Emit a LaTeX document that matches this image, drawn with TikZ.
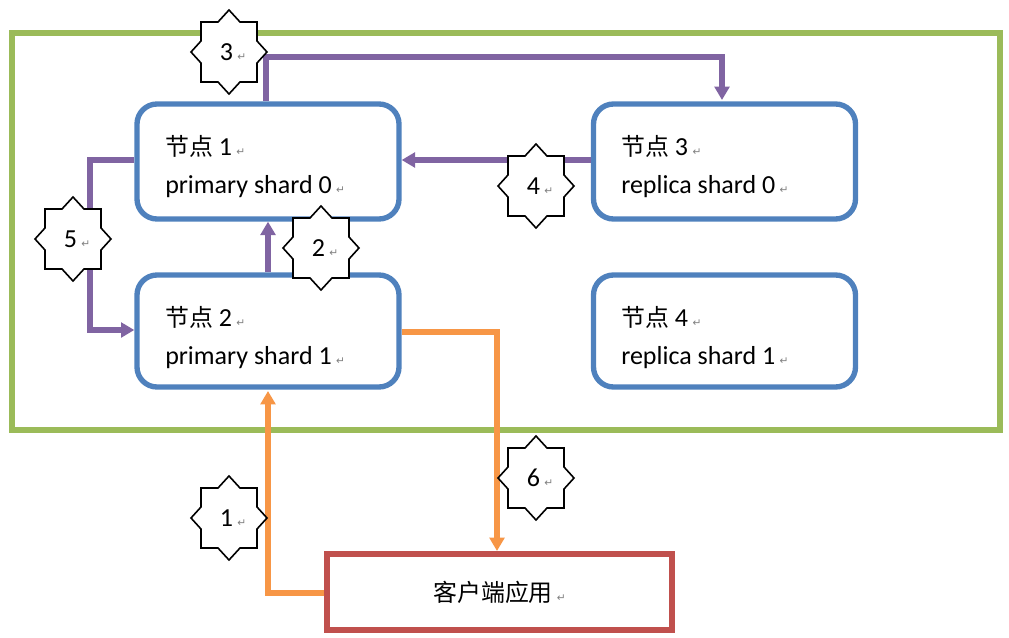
\documentclass[tikz,border=0pt]{standalone}
\usepackage{fontspec}
\setmainfont{Carlito}
\newfontfamily\cjk{Noto Sans CJK SC}[Scale=0.92]
\newfontfamily\dv{DejaVu Sans}
\usetikzlibrary{arrows.meta}
\definecolor{gr}{HTML}{9BBB59}
\definecolor{bl}{HTML}{4F81BD}
\definecolor{pu}{HTML}{8064A2}
\definecolor{og}{HTML}{F79646}
\definecolor{rd}{HTML}{C0504D}
\newcommand{\rt}{\,\textcolor{gray}{\dv\fontsize{8}{8}\selectfont ↵}}
\begin{document}
\begin{tikzpicture}[x=0.75pt,y=-0.75pt,
  box/.style={draw=bl,line width=4pt,rounded corners=15pt,fill=white},
  lbl/.style={anchor=west,font=\fontsize{19.5}{22}\selectfont,inner sep=0},
  pa/.style={draw=pu,line width=3.8pt,-{Triangle[length=10pt,width=11pt]}},
  oa/.style={draw=og,line width=3.8pt,-{Triangle[length=10pt,width=11pt]}}]
\useasboundingbox (0,0) rectangle (1009,638);
\newcommand{\mystar}[3]{%
  \draw[black,line width=1.2pt,fill=white] (#1,#2)
   +(0,-42) -- +(11,-30) -- +(28,-30) -- +(28,-11) -- +(38,0) -- +(28,11) -- +(28,30) -- +(11,30) -- +(0,42)
   -- +(-11,30) -- +(-28,30) -- +(-28,11) -- +(-38,0) -- +(-28,-11) -- +(-28,-30) -- +(-11,-30) -- cycle;
  \node[font=\fontsize{19.5}{22}\selectfont] (s#3) at (#1+4,#2) {#3\rt};}
\draw[gr,line width=4pt] (12,33) rectangle (1000,430);
\node[box,minimum width=262*0.75pt,minimum height=115*0.75pt] (n1) at (268,161.5) {};
\node[box,minimum width=262*0.75pt,minimum height=115*0.75pt] (n3) at (724.5,161.5) {};
\node[box,minimum width=262*0.75pt,minimum height=112*0.75pt] (n2) at (268,331) {};
\node[box,minimum width=262*0.75pt,minimum height=112*0.75pt] (n4) at (724.5,331) {};
\node[draw=rd,line width=4pt,minimum width=345*0.75pt,minimum height=76*0.75pt,font=\cjk\fontsize{19.5}{22}\selectfont] (cl) at (499.5,592) {客户端应用\rt};
\foreach \n/\x/\y/\a/\b in {n1/165/104/1/primary shard 0,n3/621/104/3/replica shard 0,n2/165/275/2/primary shard 1,n4/621/275/4/replica shard 1}{
  \node[lbl] at (\x,\y+42) {{\cjk 节点} \a\rt};
  \node[lbl] at (\x,\y+83) {\b\rt};}
\coordinate (a3) at (266,57); \coordinate (b3) at (722,57);
\draw[pa] (266,101) -- (a3) -- (b3) -- (722,100);
\draw[pa] (n3.west|-0,160) -- (n1.east|-0,160);
\draw[pa] (n2.north) -- (n1.south);
\draw[pa] (n1.west|-0,160) -- (90,160) -- (90,330) -- (n2.west|-0,330);
\draw[oa] (n2.east|-0,332) -- (497,332) -- (497,551);
\draw[oa] (cl.west|-0,593) -- (268,593) -- (268,391);
\mystar{229}{52}{3}
\mystar{536}{186}{4}
\mystar{321}{248}{2}
\mystar{73}{239}{5}
\mystar{536}{478}{6}
\mystar{229}{518}{1}
\end{tikzpicture}
\end{document}
